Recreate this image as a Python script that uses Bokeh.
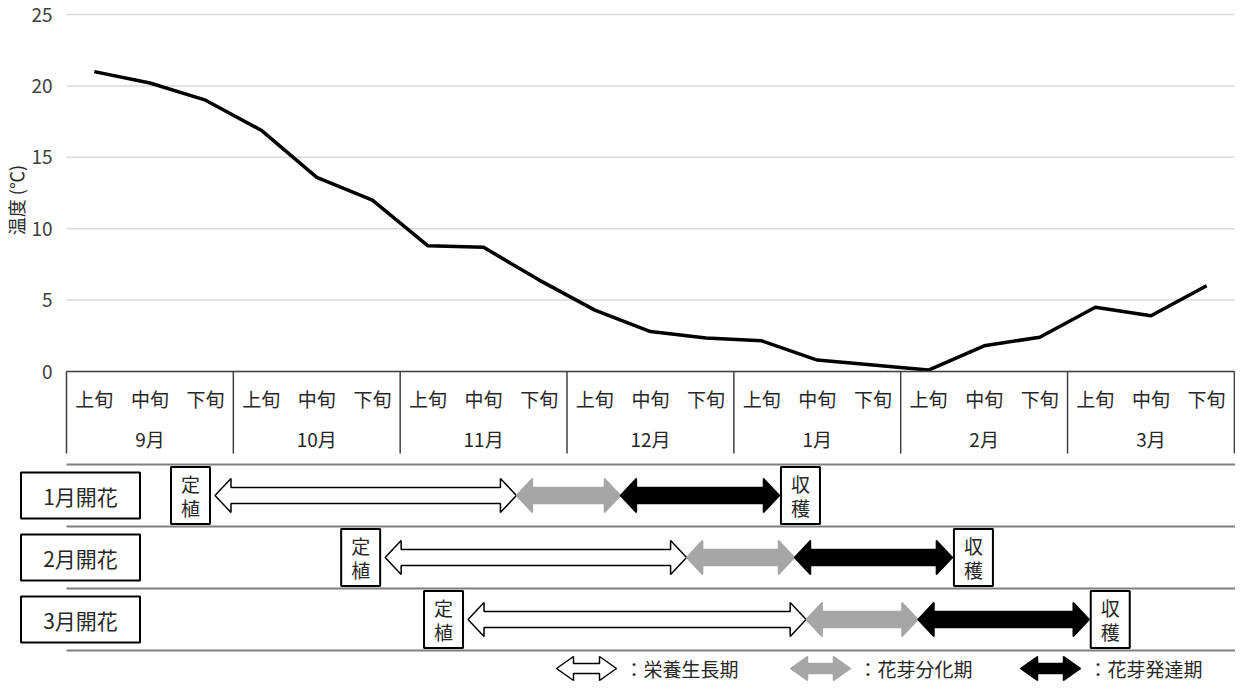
import math
from bokeh.plotting import figure
from bokeh.models import Range1d, FixedTicker, LinearAxis
from bokeh.core.properties import value
from bokeh.embed import file_html
from bokeh.resources import INLINE

# ---------------- data ----------------
months = ["9月", "10月", "11月", "12月", "1月", "2月", "3月"]
decades = ["上旬", "中旬", "下旬"]
temps = [21.0, 20.2, 19.0, 16.9, 13.6, 12.0, 8.8, 8.7, 6.4, 4.3, 2.8,
         2.35, 2.15, 0.8, 0.45, 0.1, 1.8, 2.4, 4.5, 3.9, 6.0]
y_ticks = [0, 5, 10, 15, 20, 25]
y_label = "温度 (℃)"

rows = ["1月開花", "2月開花", "3月開花"]
# phase boundaries, in decades counted from the start of September
planting = [2.67, 5.73, 7.22]
veg_end = [8.09, 11.15, 13.30]
diff_end = [9.96, 13.09, 15.31]
harvest = [12.82, 15.93, 18.39]
plant_text = ["定", "植"]
harvest_text = ["収", "穫"]
phase_names = ["：栄養生長期", "：花芽分化期", "：花芽発達期"]
phase_fill = ["white", "#a6a6a6", "black"]
phase_line = ["black", "#a6a6a6", "black"]

# ---------------- layout ----------------
FONT_NAME = "Noto Sans CJK JP"
FONT = value(FONT_NAME)
TXT = "#262626"
W, H = 1235, 684
LEFT = 66                          # canvas x of the start of September
X_END = 21.02
PXD = (W - LEFT) / X_END           # pixels per decade
N = len(months) * len(decades)

AXIS_Y = 377 - 6
SUB_Y = 398
MONTH_Y = 438
BOX_BOTTOM = 453
LEGEND_Y = 668
ROW0, ROW_STEP = 495, 62
Y_PER_UNIT = 14.28
ROW_LABEL_X = 80                   # canvas x of the row label centres
YLABEL_X, YLABEL_Y = 15, 12.0      # y title position (canvas x, temperature)

p = figure(width=W, height=H, output_backend="svg", toolbar_location=None,
           x_range=Range1d(-LEFT / PXD, X_END),
           y_range=Range1d(-(H - AXIS_Y) / Y_PER_UNIT, AXIS_Y / Y_PER_UNIT),
           x_axis_type=None, y_axis_type=None, min_border=0)
p.extra_y_ranges = {
    "px": Range1d(start=H, end=0),
    "row": Range1d(start=(H - ROW0) / ROW_STEP, end=(0 - ROW0) / ROW_STEP),
}
p.outline_line_color = None
p.border_fill_color = "white"
p.xgrid.visible = False
p.ygrid.visible = False

# y axis pinned at the start of September
yax = LinearAxis(ticker=FixedTicker(ticks=y_ticks), fixed_location=0,
                 axis_line_color=None, major_tick_line_color=None,
                 minor_tick_line_color=None, major_tick_out=0, minor_tick_out=0,
                 major_label_standoff=14, major_label_text_font=FONT_NAME,
                 major_label_text_font_size="19px",
                 major_label_text_color="#404040")
p.add_layout(yax, "left")

# horizontal grid lines (start of September to end of March)
p.segment(x0=[0] * len(y_ticks), y0=y_ticks, x1=[N] * len(y_ticks), y1=y_ticks,
          line_color="#d9d9d9", line_width=1.5)

p.text(x=[(YLABEL_X - LEFT) / PXD], y=[YLABEL_Y], text=[y_label], angle=math.pi / 2,
       text_font=FONT, text_font_size="18px", text_color=TXT,
       text_align="center", text_baseline="middle")

xc = [i + 0.5 for i in range(N)]
p.line(xc, temps, line_color="black", line_width=3.5, line_join="round")

# category axis box
p.segment(x0=[0], y0=[AXIS_Y], x1=[N], y1=[AXIS_Y], y_range_name="px",
          line_color="#404040", line_width=1.5)
mb = [3 * m for m in range(len(months) + 1)]
p.segment(x0=mb, y0=[AXIS_Y] * len(mb), x1=mb, y1=[BOX_BOTTOM] * len(mb),
          y_range_name="px", line_color="#404040", line_width=1.5)
p.text(x=xc, y=[SUB_Y] * N, text=decades * len(months), y_range_name="px",
       text_font=FONT, text_font_size="19px", text_color=TXT,
       text_align="center", text_baseline="middle")
p.text(x=[3 * m + 1.5 for m in range(len(months))], y=[MONTH_Y] * len(months),
       text=months, y_range_name="px", text_font=FONT, text_font_size="19px",
       text_color=TXT, text_align="center", text_baseline="middle")

# row separators
seps = [k - 0.5 for k in range(len(rows) + 1)]
p.segment(x0=[0] * len(seps), y0=seps, x1=[X_END] * len(seps), y1=seps,
          y_range_name="row", line_color="#7f7f7f", line_width=2)


def arrow(a, b, yc, hl, hh, sh):
    xs = [a, a + hl, a + hl, b - hl, b - hl, b, b - hl, b - hl, a + hl, a + hl]
    ys = [yc, yc - hh, yc - sh, yc - sh, yc - hh, yc, yc + hh, yc + sh, yc + sh, yc + hh]
    return xs, ys


HL = 16 / PXD
HH = 17 / ROW_STEP
SH = 8 / ROW_STEP
for k in range(len(rows)):
    bounds = [planting[k], veg_end[k], diff_end[k], harvest[k]]
    for j in range(3):
        xs, ys = arrow(bounds[j], bounds[j + 1], k, HL, HH, SH)
        p.patch(xs, ys, y_range_name="row", fill_color=phase_fill[j],
                line_color=phase_line[j], line_width=1.5)

box_x = [planting[k] - 24.5 / PXD for k in range(len(rows))] + \
        [harvest[k] + 21 / PXD for k in range(len(rows))]
box_y = list(range(len(rows))) * 2
p.rect(x=box_x, y=box_y, width=39, height=57, width_units="screen",
       height_units="screen", y_range_name="row", fill_color="white",
       line_color="black", line_width=2)
top_chars = [plant_text[0]] * len(rows) + [harvest_text[0]] * len(rows)
bot_chars = [plant_text[1]] * len(rows) + [harvest_text[1]] * len(rows)
for chars, off in ((top_chars, -12), (bot_chars, 12)):
    p.text(x=box_x, y=box_y, text=chars, y_offset=off, y_range_name="row",
           text_font=FONT, text_font_size="19px", text_color=TXT,
           text_align="center", text_baseline="middle")

# row labels
lab_x = [(ROW_LABEL_X - LEFT) / PXD] * len(rows)
lab_y = list(range(len(rows)))
p.rect(x=lab_x, y=lab_y, width=119, height=46, width_units="screen",
       height_units="screen", y_range_name="row", fill_color="white",
       line_color="black", line_width=2)
p.text(x=lab_x, y=lab_y, text=rows, y_range_name="row", text_font=FONT,
       text_font_size="21px", text_color=TXT, text_align="center",
       text_baseline="middle")

# legend
LEG_PX = [556, 790, 1020]
LEG_W = 60
for j in range(3):
    a = (LEG_PX[j] - LEFT) / PXD
    b = a + LEG_W / PXD
    xs, ys = arrow(a, b, LEGEND_Y, 17 / PXD, 12, 5)
    p.patch(xs, ys, y_range_name="px", fill_color=phase_fill[j],
            line_color=phase_line[j], line_width=1.5)
p.text(x=[(LEG_PX[j] - LEFT + LEG_W + 8) / PXD for j in range(3)], y=[LEGEND_Y] * 3,
       text=phase_names, y_range_name="px", text_font=FONT, text_font_size="19px",
       text_color=TXT, text_align="left", text_baseline="middle")

open("out.html", "w").write(file_html(p, INLINE))
